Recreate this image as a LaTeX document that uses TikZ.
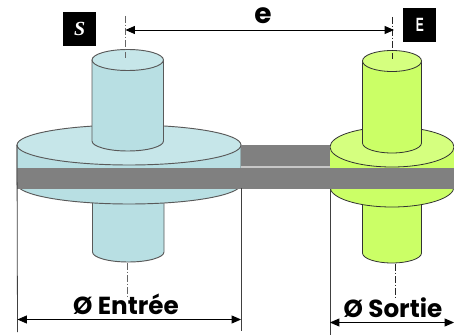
\documentclass[tikz,border=0pt]{standalone}
\usepackage{fontspec}
\setmainfont{Poppins}
\newfontfamily\boxserif{Liberation Serif}
\newfontfamily\boxsans{Liberation Sans}
\usetikzlibrary{arrows.meta}
\tikzset{
  x=0.75pt,y=-0.75pt,
  dim/.style={line width=0.6pt,draw=black,{Triangle[length=7pt,width=6pt]}-{Triangle[length=7pt,width=6pt]}},
  extline/.style={line width=0.6pt,draw=black!75},
  axisline/.style={line width=0.5pt,draw=black!60,dash pattern=on 5pt off 1.5pt on 1pt off 1.5pt},
  bluepart/.style={draw=black!65,line width=0.7pt},
  greenpart/.style={draw=black!80,line width=0.6pt},
  band/.style={fill=black!50,draw=none},
  tag/.style={fill=black,text=white,inner sep=0pt,minimum width=24.5pt,minimum height=25.5pt},
  dimtext/.style={inner sep=0pt,font=\bfseries\fontsize{18.5}{18.5}\selectfont}
}
\definecolor{bluetop}{HTML}{C6E6E9}
\definecolor{blueside}{HTML}{B8DFE3}
\definecolor{greentop}{HTML}{D5FF7F}
\definecolor{greenside}{HTML}{CBFF66}
\begin{document}
\begin{tikzpicture}
\useasboundingbox (0,0) rectangle (454,335);
\clip (0,0) rectangle (454,335);
% left part
\path[bluepart,fill=blueside] (92.5,200) -- (92.5,252) arc[start angle=180,end angle=0,x radius=35.75,y radius=10] -- (164,200) -- cycle;
\path[bluepart,fill=blueside] (17,145) -- (17,184) arc[start angle=180,end angle=0,x radius=112,y radius=20] -- (241,145) -- cycle;
\path[bluepart,fill=bluetop] (129,145) ellipse[x radius=112,y radius=20];
% right part
\path[greenpart,fill=greenside] (362.5,200) -- (362.5,253) arc[start angle=180,end angle=0,x radius=29.5,y radius=10] -- (421.5,200) -- cycle;
\path[greenpart,fill=greenside,draw=none] (330,147) -- (330,187) arc[start angle=180,end angle=0,x radius=62,y radius=20] -- (454,147) -- cycle;
\draw[greenpart] (330,187) arc[start angle=180,end angle=0,x radius=62,y radius=20];
\path[greenpart,fill=greentop] (392,147) ellipse[x radius=62,y radius=20];
% bands
\fill[black!22] (241,166) rectangle (330,169);
\fill[band] (241,145.5) rectangle (330,166);
\fill[band] (17,168.5) rectangle (454,189);
% left neck
\path[bluepart,fill=blueside] (92,60) -- (92,141) arc[start angle=180,end angle=0,x radius=35.75,y radius=10] -- (163.5,60) -- cycle;
\path[bluepart,fill=bluetop] (127.75,60) ellipse[x radius=35.75,y radius=10.5];
% right neck
\path[greenpart,fill=greenside] (362.5,61) -- (362.5,143) arc[start angle=180,end angle=0,x radius=29.5,y radius=10] -- (421.5,61) -- cycle;
\path[greenpart,fill=greentop] (392,61) ellipse[x radius=29.5,y radius=10.5];
% tags
\node[tag,font=\boxserif\bfseries\itshape\fontsize{15}{15}\selectfont] (tagS) at (79.75,29) {S};
\node[tag,font=\boxsans\bfseries\fontsize{12}{12}\selectfont] (tagE) at (419.75,25) {\scalebox{0.75}[1.2]{E}};
% labels
\node[inner sep=0pt,font=\bfseries\fontsize{21}{21}\selectfont] (labe) at (263,16) {e};
\node[dimtext] (labin) at (126,304) {Ø Entrée};
\node[dimtext] (labout) at (393,307.5) {Ø Sortie};
% axes
\coordinate (axLa) at (125,16); \coordinate (axLb) at (125,58);
\coordinate (axRa) at (392.5,17); \coordinate (axRb) at (392.5,59);
\coordinate (axLc) at (127,263); \coordinate (axLd) at (127,296);
\coordinate (axRc) at (395.5,264); \coordinate (axRd) at (395.5,299);
\draw[axisline] (axLa) -- (axLb);
\draw[axisline] (axLc) -- (axLd);
\draw[axisline,draw=black!85] (axRa) -- (axRb);
\draw[axisline,draw=black!85] (axRc) -- (axRd);
% extension lines
\coordinate (exA1) at (17,145); \coordinate (exA2) at (17.5,332);
\coordinate (exB1) at (241,188); \coordinate (exB2) at (241,331);
\coordinate (exC1) at (330,189); \coordinate (exC2) at (330,335);
\draw[extline] (exA1) -- (exA2);
\draw[extline] (exB1) -- (exB2);
\draw[extline] (exC1) -- (exC2);
% dimensions
\coordinate (eL) at (125.5,30); \coordinate (eR) at (394,30);
\coordinate (inL) at (17.5,319.5); \coordinate (inR) at (241,319.5);
\coordinate (outL) at (330,322.5); \coordinate (outR) at (454,322.5);
\draw[dim] (eL) -- (eR);
\draw[dim] (inL) -- (inR);
\draw[dim] (outL) -- (outR);
\end{tikzpicture}
\end{document}
